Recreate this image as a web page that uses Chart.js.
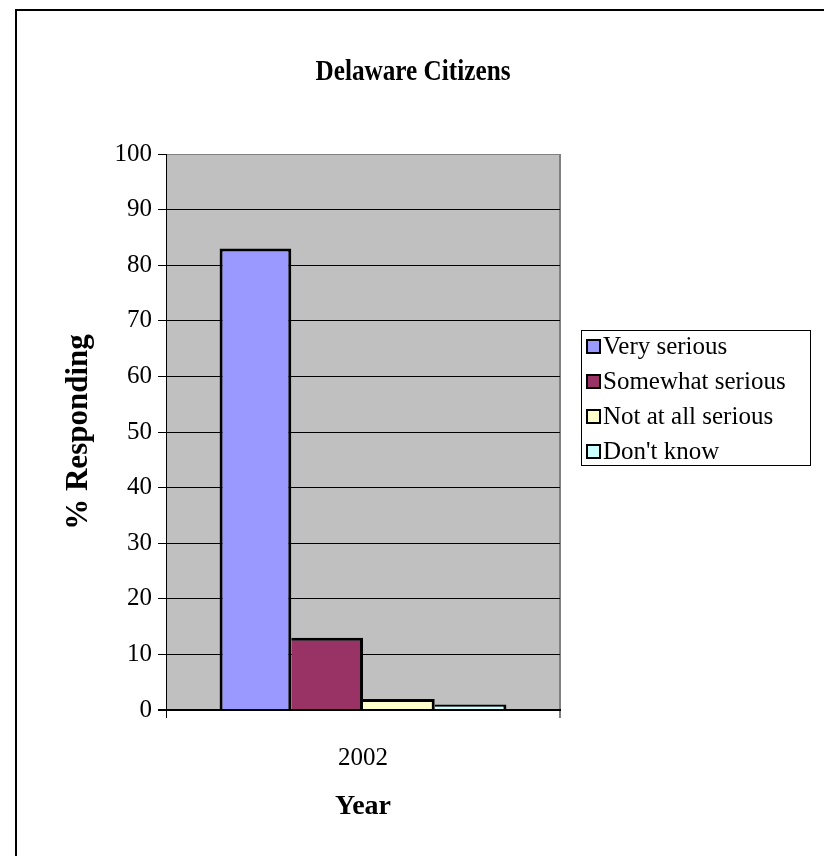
<!DOCTYPE html>
<html>
<head>
<meta charset="utf-8">
<title>Delaware Citizens</title>
<script src="https://cdn.jsdelivr.net/npm/chart.js@4.4.1/dist/chart.umd.min.js"></script>
<style>
  html, body { margin: 0; padding: 0; background: #fff; overflow: hidden; }
  #wrap { position: relative; width: 824px; height: 856px; }
  #frame {
    position: absolute; left: 15px; top: 9px; width: 900px; height: 900px;
    border-left: 2px solid #000; border-top: 2px solid #000; pointer-events: none;
  }
  canvas { position: absolute; left: 0; top: 0; }
</style>
</head>
<body>
<div id="wrap">
  <canvas id="citizensChart" width="824" height="856"></canvas>
  <div id="frame"></div>
</div>
<script>
const years = ['2002'];
const seriesNames = ['Very serious', 'Somewhat serious', 'Not at all serious', "Don't know"];
const verySerious = [83];
const somewhatSerious = [13];
const notAtAllSerious = [2];
const dontKnow = [1];
const yTicks = [0, 10, 20, 30, 40, 50, 60, 70, 80, 90, 100];
const seriesColors = ['#9999FF', '#993366', '#FFFFCC', '#CCFFFF'];

const SERIF = "'Liberation Serif', 'Times New Roman', serif";

const seriesValues = [verySerious, somewhatSerious, notAtAllSerious, dontKnow];

// grey plot background
const plotBackground = {
  id: 'plotBackground',
  beforeDraw(chart) {
    const { ctx, chartArea: a } = chart;
    ctx.save();
    ctx.fillStyle = '#C0C0C0';
    ctx.fillRect(a.left, a.top, a.right - a.left, a.bottom - a.top);
    ctx.restore();
  }
};

// chart heading, centred on the page, slightly narrowed
const heading = {
  id: 'heading',
  afterDraw(chart) {
    const { ctx } = chart;
    ctx.save();
    ctx.translate(413, 73);
    ctx.scale(0.87, 1);
    ctx.font = 'bold 29px ' + SERIF;
    ctx.fillStyle = '#000';
    ctx.textAlign = 'center';
    ctx.textBaseline = 'middle';
    ctx.fillText('Delaware Citizens', 0, 0);
    ctx.restore();
  }
};

// boxed legend to the right of the plot
const boxLegend = {
  id: 'boxLegend',
  afterDraw(chart) {
    const { ctx } = chart;
    const rowH = 35;
    const left = 581, top = 330, width = 229, height = 135;
    ctx.save();
    ctx.fillStyle = '#fff';
    ctx.fillRect(left, top, width, height);
    ctx.strokeStyle = '#000';
    ctx.lineWidth = 1;
    ctx.strokeRect(left + 0.5, top + 0.5, width, height);
    ctx.font = '25px ' + SERIF;
    ctx.textBaseline = 'middle';
    chart.data.datasets.forEach((ds, i) => {
      const cy = top + 16 + i * rowH;
      ctx.fillStyle = ds.backgroundColor;
      ctx.fillRect(587, cy - 6, 13, 13);
      ctx.strokeStyle = '#000';
      ctx.lineWidth = 2;
      ctx.strokeRect(587, cy - 6, 13, 13);
      ctx.fillStyle = '#000';
      ctx.fillText(ds.label, 603, cy + 1);
    });
    ctx.restore();
  }
};

new Chart(document.getElementById('citizensChart'), {
  type: 'bar',
  data: {
    labels: years,
    datasets: seriesNames.map((name, i) => ({
      label: name,
      data: seriesValues[i],
      backgroundColor: seriesColors[i],
      borderColor: '#000',
      // neighbouring bars share one edge line
      borderWidth: i === 0
        ? { left: 3, top: 3, right: 3, bottom: 0 }
        : { left: 0, top: 3, right: 3, bottom: 0 },
      categoryPercentage: 0.728,
      barPercentage: 1
    }))
  },
  options: {
    responsive: false,
    animation: false,
    layout: { padding: { left: 0, right: 264, top: 154, bottom: 26 } },
    plugins: {
      legend: { display: false },
      title: { display: false },
      tooltip: { enabled: false }
    },
    scales: {
      x: {
        offset: true,
        afterFit(scale) { scale.height = 120; },
        grid: {
          offset: true,
          color: (c) => (c.index === 0 ? '#000' : '#808080'),
          tickColor: (c) => (c.index === 0 ? '#000' : '#808080'),
          lineWidth: (c) => (c.index === 0 ? 1 : 2),
          tickLength: 8
        },
        border: { display: true, color: '#000', width: 2 },
        ticks: {
          color: '#000',
          padding: 25,
          font: { family: SERIF, size: 25 }
        },
        title: {
          display: true,
          text: 'Year',
          color: '#000',
          padding: { top: 0, bottom: 6 },
          font: { family: SERIF, size: 28, weight: 'bold' }
        }
      },
      y: {
        min: 0,
        max: 100,
        afterFit(scale) { scale.width = 166; },
        afterBuildTicks(scale) { scale.ticks = yTicks.map(v => ({ value: v })); },
        grid: {
          color: (c) => (c.tick && c.tick.value === 100 ? '#808080' : '#000'),
          tickColor: '#000',
          lineWidth: (c) => (c.tick && c.tick.value === 0 ? 2 : 1),
          tickLength: 8
        },
        border: { display: true, color: '#000', width: 1 },
        ticks: {
          color: '#000',
          padding: 6,
          font: { family: SERIF, size: 25 }
        },
        title: {
          display: true,
          text: '% Responding',
          color: '#000',
          padding: { top: 60, bottom: 0 },
          font: { family: SERIF, size: 31, weight: 'bold' }
        }
      }
    }
  },
  plugins: [plotBackground, heading, boxLegend]
});
</script>
</body>
</html>
